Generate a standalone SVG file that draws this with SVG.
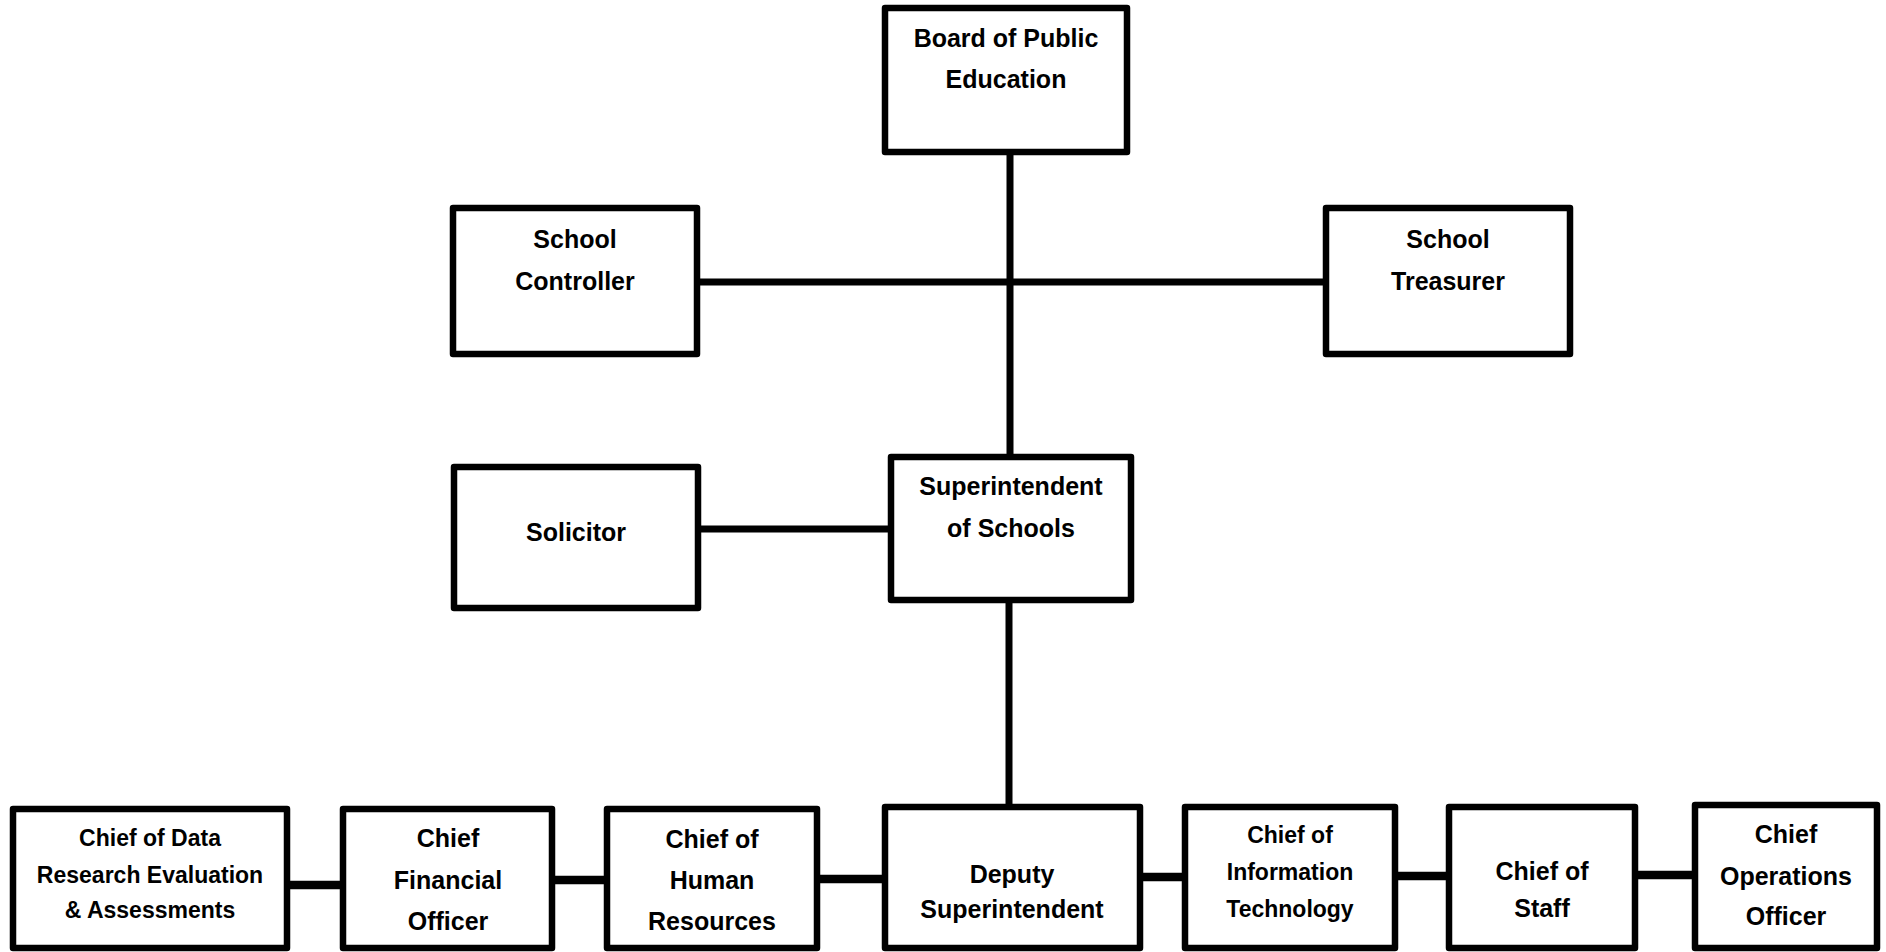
<svg xmlns="http://www.w3.org/2000/svg" width="1886" height="952" viewBox="0 0 1886 952">
<style>
.box{fill:#fff;stroke:#000;stroke-width:6.5;stroke-linejoin:round}
.ln{stroke:#000;stroke-width:7;fill:none}
.lnb{stroke:#000;stroke-width:8.5;fill:none}
text{font-family:"Liberation Sans",Arial,sans-serif;font-weight:bold;fill:#000;text-anchor:middle;font-size:25px}
.s{font-size:23px}
</style>
<rect width="1886" height="952" fill="#fff"/>
<g id="connectors">
<line class="ln" x1="1010" y1="152" x2="1010" y2="457"/>
<line class="ln" x1="697" y1="282" x2="1326" y2="282"/>
<line class="ln" x1="696" y1="529" x2="891" y2="529"/>
<line class="ln" x1="1009" y1="600" x2="1009" y2="807"/>
<line class="lnb" x1="287" y1="885" x2="343" y2="885"/>
<line class="lnb" x1="552" y1="880" x2="607" y2="880"/>
<line class="lnb" x1="817" y1="879" x2="885" y2="879"/>
<line class="lnb" x1="1140" y1="877" x2="1185" y2="877"/>
<line class="lnb" x1="1395" y1="876" x2="1449" y2="876"/>
<line class="lnb" x1="1635" y1="875" x2="1695" y2="875"/>
</g>
<g id="board"><rect class="box" x="885" y="8" width="242" height="144"/><text x="1006" y="47">Board of Public</text><text x="1006" y="88">Education</text></g>
<g id="controller"><rect class="box" x="453" y="208" width="244" height="146"/><text x="575" y="248">School</text><text x="575" y="290">Controller</text></g>
<g id="treasurer"><rect class="box" x="1326" y="208" width="244" height="146"/><text x="1448" y="248">School</text><text x="1448" y="290">Treasurer</text></g>
<g id="solicitor"><rect class="box" x="454" y="467" width="244" height="141"/><text x="576" y="541">Solicitor</text></g>
<g id="superintendent"><rect class="box" x="891" y="457" width="240" height="143"/><text x="1011" y="495">Superintendent</text><text x="1011" y="537">of Schools</text></g>
<g id="data"><rect class="box" x="13" y="809" width="274" height="139"/><text class="s" x="150" y="846">Chief of Data</text><text class="s" x="150" y="883">Research Evaluation</text><text class="s" x="150" y="918">&amp; Assessments</text></g>
<g id="cfo"><rect class="box" x="343" y="809" width="209" height="139"/><text x="448" y="847">Chief</text><text x="448" y="889">Financial</text><text x="448" y="930">Officer</text></g>
<g id="chr"><rect class="box" x="607" y="809" width="210" height="139"/><text x="712" y="848">Chief of</text><text x="712" y="889">Human</text><text x="712" y="930">Resources</text></g>
<g id="deputy"><rect class="box" x="885" y="807" width="255" height="141"/><text x="1012" y="883">Deputy</text><text x="1012" y="918">Superintendent</text></g>
<g id="cit"><rect class="box" x="1185" y="807" width="210" height="141"/><text class="s" x="1290" y="843">Chief of</text><text class="s" x="1290" y="880">Information</text><text class="s" x="1290" y="917">Technology</text></g>
<g id="cos"><rect class="box" x="1449" y="807" width="186" height="141"/><text x="1542" y="880">Chief of</text><text x="1542" y="917">Staff</text></g>
<g id="coo"><rect class="box" x="1695" y="805" width="182" height="143"/><text x="1786" y="843">Chief</text><text x="1786" y="885">Operations</text><text x="1786" y="925">Officer</text></g>
</svg>
